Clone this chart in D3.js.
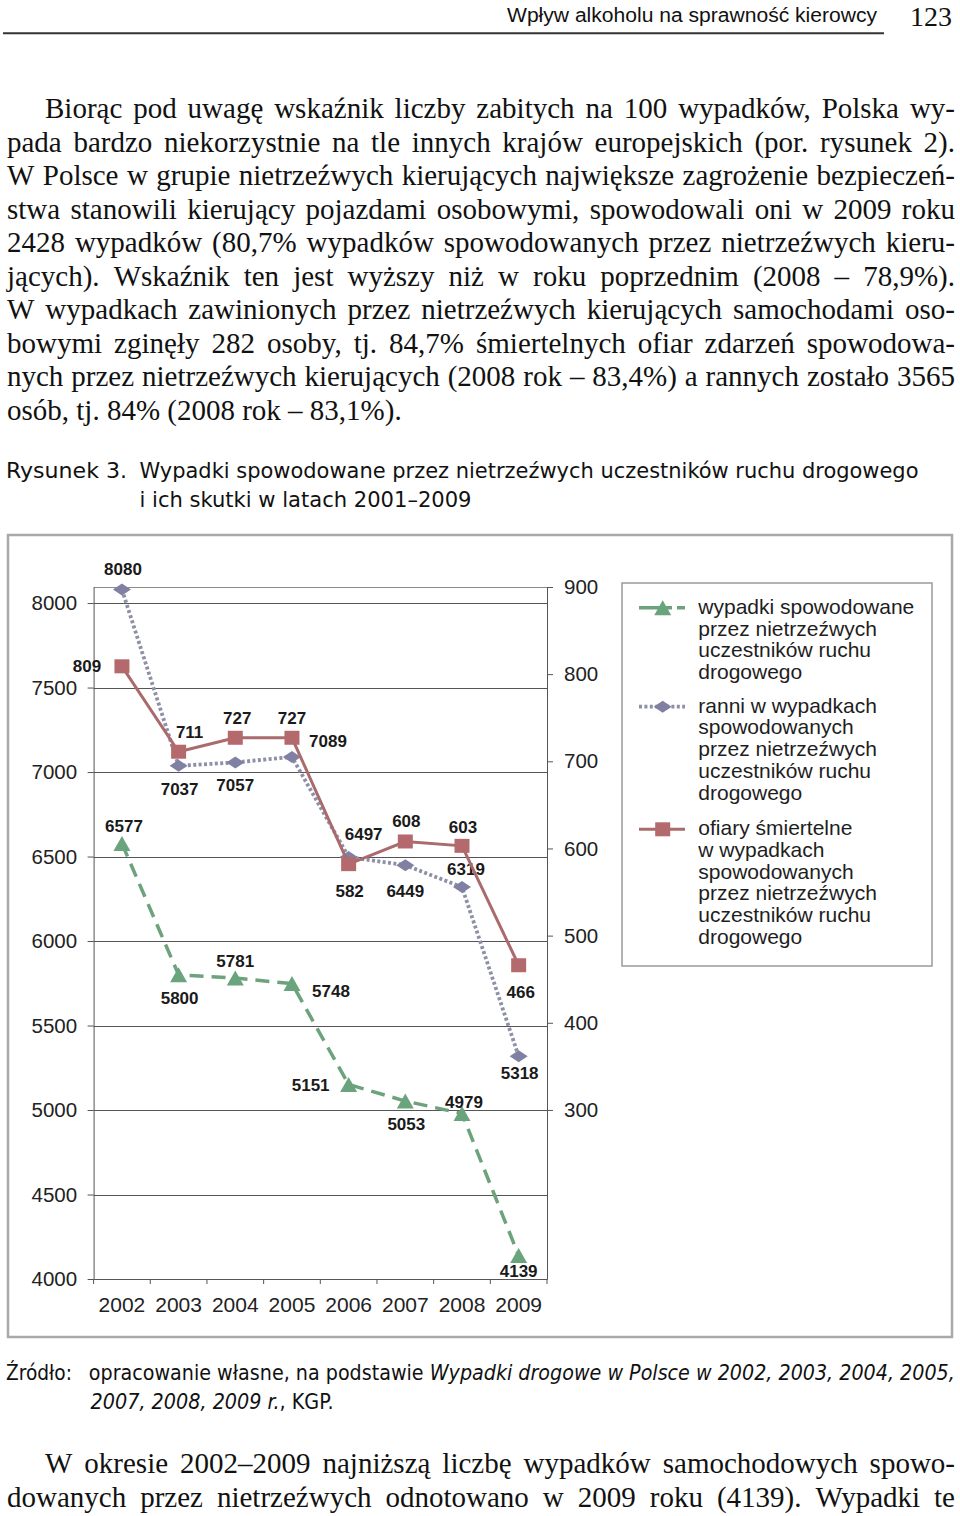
<!DOCTYPE html>
<html><head><meta charset="utf-8">
<script src="https://cdn.jsdelivr.net/npm/d3@7"></script>
<style>html,body{margin:0;padding:0;background:#fff}svg{display:block}</style>
</head><body>
<svg id="page" width="960" height="1516"></svg>
<script>
// ---------- DATA ----------
const years = ["2002","2003","2004","2005","2006","2007","2008","2009"];
const accidents = [6577, 5800, 5781, 5748, 5151, 5053, 4979, 4139];
const injured   = [8080, 7037, 7057, 7089, 6497, 6449, 6319, 5318];
const killed    = [809, 711, 727, 727, 582, 608, 603, 466];
const leftTicks  = [4000, 4500, 5000, 5500, 6000, 6500, 7000, 7500, 8000];
const rightTicks = [300, 400, 500, 600, 700, 800, 900];
const legendAcc = ["wypadki spowodowane","przez nietrzeźwych","uczestników ruchu","drogowego"];
const legendInj = ["ranni w wypadkach","spowodowanych","przez nietrzeźwych","uczestników ruchu","drogowego"];
const legendKil = ["ofiary śmiertelne","w wypadkach","spowodowanych","przez nietrzeźwych","uczestników ruchu","drogowego"];
// label offsets relative to their points (layout only)
const accOff = [[2,-18],[1,23],[0,-17],[39,7],[-38,1],[1,23],[2,-12],[0,15]];
const injOff = [[1,-21],[1,23],[0,23],[36,-16],[15,-23],[0,26],[4,-18],[1,17]];
const kilOff = [[-35,0],[11,-20],[2,-20],[0,-20],[1,27],[1,-20],[1,-19],[2,27]];

const bodyLines = [
 "Biorąc pod uwagę wskaźnik liczby zabitych na 100 wypadków, Polska wy-",
 "pada bardzo niekorzystnie na tle innych krajów europejskich (por. rysunek 2).",
 "W Polsce w grupie nietrzeźwych kierujących największe zagrożenie bezpieczeń-",
 "stwa stanowili kierujący pojazdami osobowymi, spowodowali oni w 2009 roku",
 "2428 wypadków (80,7% wypadków spowodowanych przez nietrzeźwych kieru-",
 "jących). Wskaźnik ten jest wyższy niż w roku poprzednim (2008 – 78,9%).",
 "W wypadkach zawinionych przez nietrzeźwych kierujących samochodami oso-",
 "bowymi zginęły 282 osoby, tj. 84,7% śmiertelnych ofiar zdarzeń spowodowa-",
 "nych przez nietrzeźwych kierujących (2008 rok – 83,4%) a rannych zostało 3565",
 "osób, tj. 84% (2008 rok – 83,1%)."
];
const bottomLines = [
 "W okresie 2002–2009 najniższą liczbę wypadków samochodowych spowo-",
 "dowanych przez nietrzeźwych odnotowano w 2009 roku (4139). Wypadki te"
];

// ---------- PAGE ----------
const svg = d3.select("#page");
svg.append("rect").attr("width",960).attr("height",1516).attr("fill","#fff");

const serif = "'Liberation Serif','Times New Roman',serif";
const sans = "'Liberation Sans',Arial,sans-serif";
const tah = "'DejaVu Sans Condensed','DejaVu Sans',sans-serif";

// header
svg.append("text").attr("x",507).attr("y",22).attr("font-family",sans).attr("font-size",20)
  .attr("fill","#111").attr("textLength",370).attr("lengthAdjust","spacingAndGlyphs")
  .text("Wpływ alkoholu na sprawność kierowcy");
svg.append("text").attr("x",952).attr("y",26).attr("text-anchor","end").attr("font-family",serif)
  .attr("font-size",28).attr("fill","#111").text("123");
svg.append("line").attr("x1",3).attr("x2",884).attr("y1",33.3).attr("y2",33.3)
  .attr("stroke","#333").attr("stroke-width",2);

function justify(str, x0, x1, y, justifyIt){
  const t = svg.append("text").attr("y",y).attr("font-family",serif).attr("font-size",29).attr("fill","#111");
  if(!justifyIt){ t.attr("x",x0).text(str); return; }
  const words = str.split(" ");
  const widths = words.map(w=>{
    const tmp = svg.append("text").attr("font-family",serif).attr("font-size",29).text(w);
    const wd = tmp.node().getComputedTextLength(); tmp.remove(); return wd;
  });
  const total = d3.sum(widths);
  const gap = (x1 - x0 - total)/(words.length-1);
  let x = x0;
  words.forEach((w,i)=>{ t.append("tspan").attr("x",x).text(w); x += widths[i]+gap; });
}
bodyLines.forEach((s,i)=>{
  justify(s, i===0?45:7, 955, 118 + i*33.5, i<bodyLines.length-1);
});

// caption
svg.append("text").attr("x",6).attr("y",478).attr("font-family",tah).attr("font-size",22).attr("fill","#111")
  .attr("textLength",121).attr("lengthAdjust","spacingAndGlyphs").text("Rysunek 3.");
svg.append("text").attr("x",139.5).attr("y",478).attr("font-family",tah).attr("font-size",22).attr("fill","#111")
  .attr("textLength",779).attr("lengthAdjust","spacingAndGlyphs")
  .text("Wypadki spowodowane przez nietrzeźwych uczestników ruchu drogowego");
svg.append("text").attr("x",139.5).attr("y",507).attr("font-family",tah).attr("font-size",22).attr("fill","#111")
  .attr("textLength",332).attr("lengthAdjust","spacingAndGlyphs")
  .text("i ich skutki w latach 2001–2009");

// ---------- CHART ----------
svg.append("rect").attr("x",8).attr("y",535).attr("width",944).attr("height",802)
  .attr("fill","#fff").attr("stroke","#a9a9a9").attr("stroke-width",2.5);

const L = 93.6, R = 547, T = 587, B = 1279;
const x = d3.scaleBand().domain(years).range([L,R]).padding(0);
const cx = d => x(d) + x.bandwidth()/2;
const yL = d3.scaleLinear().domain([4000, 8095]).range([B,T]);
const yR = d3.scaleLinear().domain([106, 900]).range([B,T]);

const g = svg.append("g");
// gridlines
g.selectAll("line.grid").data(leftTicks.filter(v=>v>4000)).join("line")
  .attr("x1",L).attr("x2",R).attr("y1",d=>Math.round(yL(d))+0.5).attr("y2",d=>Math.round(yL(d))+0.5)
  .attr("stroke","#555").attr("stroke-width",1);
// plot top border
g.append("line").attr("x1",L).attr("x2",R).attr("y1",T+0.5).attr("y2",T+0.5).attr("stroke","#8a8a8a").attr("stroke-width",1.2);

const axisFont = g=>{ g.selectAll("text").attr("font-family",sans).attr("fill","#222");
  g.selectAll("path,line").attr("stroke","#555"); };

g.append("g").attr("transform",`translate(${L},0)`)
  .call(d3.axisLeft(yL).tickValues(leftTicks).tickSize(6).tickSizeOuter(0).tickPadding(10.5).tickFormat(d3.format("d")))
  .call(axisFont).attr("font-size",20.5);
g.append("g").attr("transform",`translate(${R},0)`)
  .call(d3.axisRight(yR).tickValues(rightTicks).tickSize(6).tickSizeOuter(0).tickPadding(11).tickFormat(d3.format("d")))
  .call(axisFont).attr("font-size",20.5);
const xa = g.append("g").attr("transform",`translate(0,${B})`)
  .call(d3.axisBottom(x).tickSize(0).tickPadding(18))
  .call(axisFont).attr("font-size",21);
xa.select(".domain").attr("stroke","#555");
// x tick marks at band boundaries
const bounds = years.map(d=>x(d)).concat([R]);
g.selectAll("line.xt").data(bounds).join("line")
  .attr("x1",d=>d).attr("x2",d=>d).attr("y1",B).attr("y2",B+5).attr("stroke","#555");

// series styles
const cAcc = "#6aa47c", cAccLine = "#6da27d";
const cInj = "#8081a2", cInjLine = "#8d90a6";
const cKil = "#b4696d", cKilLine = "#a96b6d";

const tri = (w,h)=>`M0,${-h/2}L${w/2},${h/2}L${-w/2},${h/2}Z`;
const dia = (w,h)=>`M0,${-h/2}L${w/2},0L0,${h/2}L${-w/2},0Z`;
const sq = (w,h)=>`M${-w/2},${-h/2}h${w}v${h}h${-w}Z`;

function series(vals, ys, color, lineColor, dash, width, shape, offs){
  const line = d3.line().x((d,i)=>cx(years[i])).y(d=>ys(d));
  g.append("path").datum(vals).attr("d",line).attr("fill","none").attr("stroke",lineColor)
    .attr("stroke-width",width).attr("stroke-dasharray",dash);
  g.selectAll(null).data(vals).join("path")
    .attr("transform",(d,i)=>`translate(${cx(years[i])},${ys(d)})`)
    .attr("d",shape).attr("fill",color);
  g.selectAll(null).data(vals).join("text")
    .attr("x",(d,i)=>cx(years[i])+offs[i][0]).attr("y",(d,i)=>ys(d)+offs[i][1]+6)
    .attr("text-anchor","middle").attr("font-family",sans).attr("font-weight","bold")
    .attr("font-size",17).attr("fill","#1a1a1a").text(d=>d);
}
series(accidents, yL, cAcc, cAccLine, "14,8", 3.5, tri(17,15), accOff);
series(injured, yL, cInj, cInjLine, "3,2.4", 3.8, dia(18,12), injOff);
series(killed, yR, cKil, cKilLine, null, 3, sq(15,14), kilOff);

// legend
svg.append("rect").attr("x",622).attr("y",583).attr("width",310).attr("height",383)
  .attr("fill","#fff").attr("stroke","#9a9a9a").attr("stroke-width",1.5);
const leg = [
  {y:607.7, lines:legendAcc, color:cAcc, lc:cAccLine, dash:"33,5,9", w:3.5, shape:tri(17,15), base:614},
  {y:706.7, lines:legendInj, color:cInj, lc:cInjLine, dash:"3,2.4", w:3.8, shape:dia(18,12), base:712.7},
  {y:829.3, lines:legendKil, color:cKil, lc:cKilLine, dash:null, w:3, shape:sq(15,14), base:835.3}
];
leg.forEach(it=>{
  svg.append("line").attr("x1",639).attr("x2",685).attr("y1",it.y).attr("y2",it.y)
    .attr("stroke",it.lc).attr("stroke-width",it.w).attr("stroke-dasharray",it.dash);
  svg.append("path").attr("transform",`translate(662.7,${it.y})`).attr("d",it.shape).attr("fill",it.color);
  it.lines.forEach((s,i)=>{
    svg.append("text").attr("x",698.3).attr("y",it.base+i*21.7).attr("font-family",sans)
      .attr("font-size",21).attr("fill","#1e1e1e").text(s);
  });
});

// source
svg.append("text").attr("x",6).attr("y",1380).attr("font-family",tah).attr("font-size",21).attr("fill","#111")
  .attr("textLength",66).attr("lengthAdjust","spacingAndGlyphs").text("Źródło:");
const s1 = svg.append("text").attr("x",88.8).attr("y",1380).attr("font-family",tah).attr("font-size",21).attr("fill","#111")
  .attr("textLength",866).attr("lengthAdjust","spacingAndGlyphs");
s1.append("tspan").text("opracowanie własne, na podstawie ");
s1.append("tspan").attr("font-style","italic").text("Wypadki drogowe w Polsce w 2002, 2003, 2004, 2005,");
const s2 = svg.append("text").attr("x",90.6).attr("y",1409).attr("font-family",tah).attr("font-size",21).attr("fill","#111")
  .attr("textLength",243).attr("lengthAdjust","spacingAndGlyphs");
s2.append("tspan").attr("font-style","italic").text("2007, 2008, 2009 r.");
s2.append("tspan").text(", KGP.");

// bottom paragraph
bottomLines.forEach((s,i)=> justify(s, i===0?45:7, 955, 1473 + i*33.5, true));
</script>
</body></html>
